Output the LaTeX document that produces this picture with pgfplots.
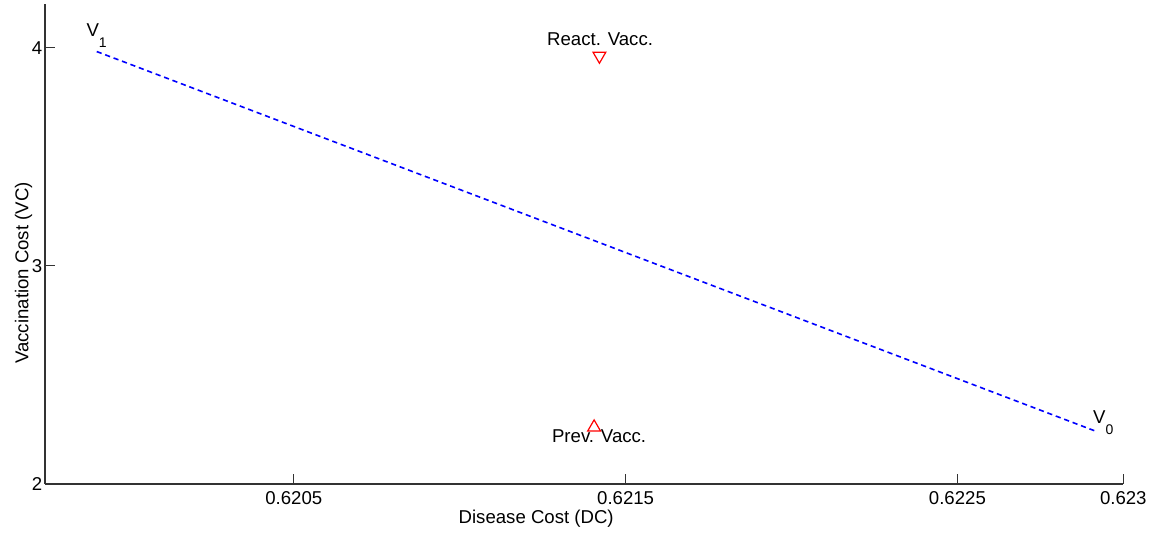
\documentclass[border=0pt]{standalone}
\usepackage{fontspec}
\setmainfont{Liberation Sans}
\usepackage{pgfplots}
\pgfplotsset{compat=1.18}

\newcommand{\lblfont}{\fontsize{9.3}{11}\selectfont}
\newcommand{\Vsub}[1]{V\raisebox{-5.5pt}{\fontsize{7}{8}\selectfont #1}}

\begin{document}
\begin{tikzpicture}
  \begin{axis}[
      name=ax,
      scale only axis,
      width=539.2pt, height=240pt,
      xmin=0.61975, xmax=0.623,
      ymin=2, ymax=4.2,
      axis x line=bottom, axis y line=left,
      axis line style={-, black!80, line width=0.6pt},
      tick style={black!80, line width=0.6pt},
      tick align=inside,
      major tick length=5pt,
      xtick={0.6205,0.6215,0.6225,0.623},
      xticklabels={0.6205,0.6215,0.6225,0.623},
      ytick={2,3,4},
      yticklabels={2,3,4},
      tick label style={font=\lblfont},
      yticklabel style={inner xsep=1.2pt},
      xlabel={Disease Cost (DC)},
      ylabel={Vaccination Cost (VC)},
      label style={font=\lblfont, inner sep=0pt},
      xlabel style={at={(axis description cs:0.4555,-0.0819)}, anchor=base},
      ylabel style={at={(axis description cs:-0.0153,0.4396)}, anchor=base, rotate=0},
      clip=false,
    ]
    % line between the two extreme strategies
    \addplot[blue, dashed, line width=0.8pt, dash pattern=on 2.6pt off 1.9pt] coordinates {
      (0.619906, 3.982)
      (0.62292, 2.240)
    };
    % reactive vaccination
    \addplot[red, only marks, mark=triangle, mark size=3.67pt,
             mark options={rotate=180, line width=0.6pt}] coordinates {
      (0.621421, 3.962)
    };
    % preventive vaccination
    \addplot[red, only marks, mark=triangle, mark size=3.67pt,
             mark options={line width=0.6pt}] coordinates {
      (0.621405, 2.260)
    };
    \node[anchor=base west, inner sep=0pt, font=\lblfont] at (axis cs:0.619874,4.049) {\Vsub{1}};
    \node[anchor=base west, inner sep=0pt, font=\lblfont] at (axis cs:0.622908,2.275) {\Vsub{0}};
    \node[anchor=base, inner sep=0pt, font=\lblfont] at (axis cs:0.621423,4.008) {React. Vacc.};
    \node[anchor=base, inner sep=0pt, font=\lblfont] at (axis cs:0.621420,2.189) {Prev. Vacc.};
  \end{axis}
  \pgfresetboundingbox
  \path ([shift={(-22.5pt,-25.5pt)}]ax.south west) rectangle ([shift={(14.85pt,2pt)}]ax.north east);
\end{tikzpicture}
\end{document}
